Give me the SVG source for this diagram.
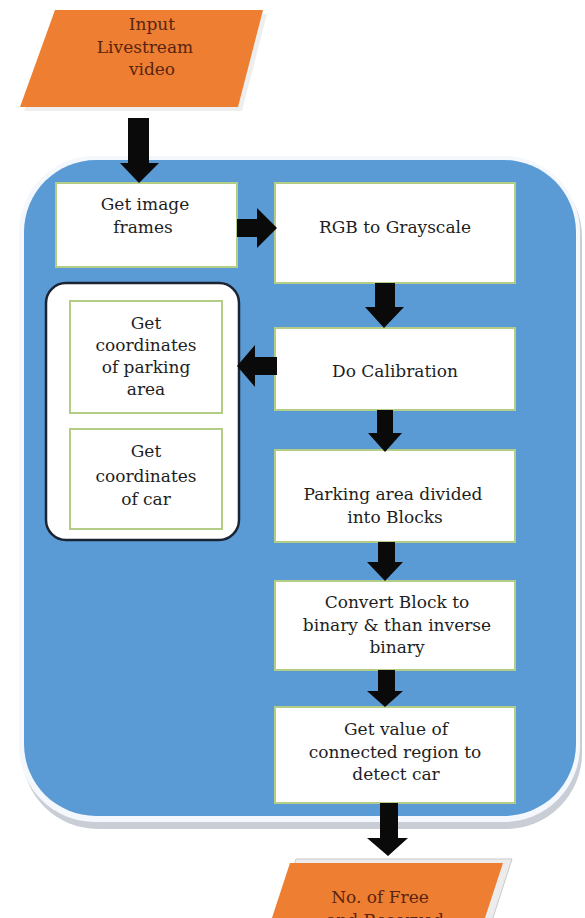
<svg xmlns="http://www.w3.org/2000/svg" width="585" height="918" viewBox="0 0 585 918">
<style>
.t{font-family:"DejaVu Serif","Liberation Serif",serif;font-size:17px;fill:#1e1e1e;text-anchor:middle}
.o{font-family:"DejaVu Serif","Liberation Serif",serif;font-size:17px;fill:#5a2410;text-anchor:middle}
.box{fill:#ffffff;stroke:#b3cc86;stroke-width:2}
.io{fill:#EE7E32}
.arr{fill:#0a0a0a}
</style>
<rect width="585" height="918" fill="#ffffff"/>
<g id="container">
<rect x="22" y="161" width="560" height="668" rx="76" fill="#c9ced6"/>
<rect x="19" y="156" width="561" height="666" rx="76" fill="#f4f7fb"/>
<rect x="24" y="160" width="552" height="656" rx="72" fill="#5B9BD5"/>
</g>
<g id="input">
<polygon points="59,14 267,14 242,111 24,111" fill="#eeeeee"/>
<polygon class="io" points="55,10 263,10 238,107 20,107"/>
<text class="o" x="152" y="30">Input</text>
<text class="o" x="145" y="53">Livestream</text>
<text class="o" x="152" y="75">video</text>
</g>
<g id="get-frames">
<rect class="box" x="56" y="183" width="181" height="84"/>
<text class="t" x="145" y="210">Get image</text>
<text class="t" x="143" y="233">frames</text>
</g>
<g id="rgb-gray">
<rect class="box" x="275" y="183" width="240" height="100"/>
<text class="t" x="395" y="233">RGB to Grayscale</text>
</g>
<g id="coords-group">
<rect x="46" y="283" width="193" height="257" rx="20" fill="#ffffff" stroke="#1b2433" stroke-width="2.5"/>
<g id="coords-parking">
<rect class="box" x="70" y="301" width="152" height="112"/>
<text class="t" x="146" y="329">Get</text>
<text class="t" x="146" y="351">coordinates</text>
<text class="t" x="146" y="373">of parking</text>
<text class="t" x="146" y="395">area</text>
</g>
<g id="coords-car">
<rect class="box" x="70" y="429" width="152" height="100"/>
<text class="t" x="146" y="457">Get</text>
<text class="t" x="146" y="482">coordinates</text>
<text class="t" x="146" y="505">of car</text>
</g>
</g>
<g id="calibration">
<rect class="box" x="275" y="328" width="240" height="82"/>
<text class="t" x="395" y="377">Do Calibration</text>
</g>
<g id="blocks">
<rect class="box" x="275" y="450" width="240" height="92"/>
<text class="t" x="393" y="500">Parking area divided</text>
<text class="t" x="395" y="523">into Blocks</text>
</g>
<g id="binary">
<rect class="box" x="275" y="581" width="240" height="89"/>
<text class="t" x="397" y="608">Convert Block to</text>
<text class="t" x="397" y="631">binary &amp; than inverse</text>
<text class="t" x="397" y="653">binary</text>
</g>
<g id="detect">
<rect class="box" x="275" y="707" width="240" height="96"/>
<text class="t" x="396" y="735">Get value of</text>
<text class="t" x="395" y="758">connected region to</text>
<text class="t" x="396" y="780">detect car</text>
</g>
<g id="output">
<polygon points="296,859 512,859 489,930 276,930" fill="#ececec" stroke="#c9c9c9" stroke-width="1"/>
<polygon class="io" points="290,863 503,863 481,930 268,930"/>
<text class="o" x="380" y="903">No. of Free</text>
<text class="o" x="385" y="926">and Reserved</text>
</g>
<g id="connectors">
<polygon class="arr" points="128,118 149,118 149,163 159,163 139,183 120,163 128,163"/>
<polygon class="arr" points="237,219 257,219 257,208 277,228 257,248 257,237 237,237"/>
<polygon class="arr" points="375,283 395,283 395,307 404,307 384,328 365,307 375,307"/>
<polygon class="arr" points="277,357 255,357 255,345 237,366 255,387 255,375 277,375"/>
<polygon class="arr" points="377,410 393,410 393,433 402,433 385,452 368,433 377,433"/>
<polygon class="arr" points="378,542 395,542 395,562 403,562 385,581 367,562 378,562"/>
<polygon class="arr" points="378,670 395,670 395,691 403,691 385,707 367,691 378,691"/>
<polygon class="arr" points="380,803 398,803 398,838 408,838 388,856 367,838 380,838"/>
</g>
</svg>
